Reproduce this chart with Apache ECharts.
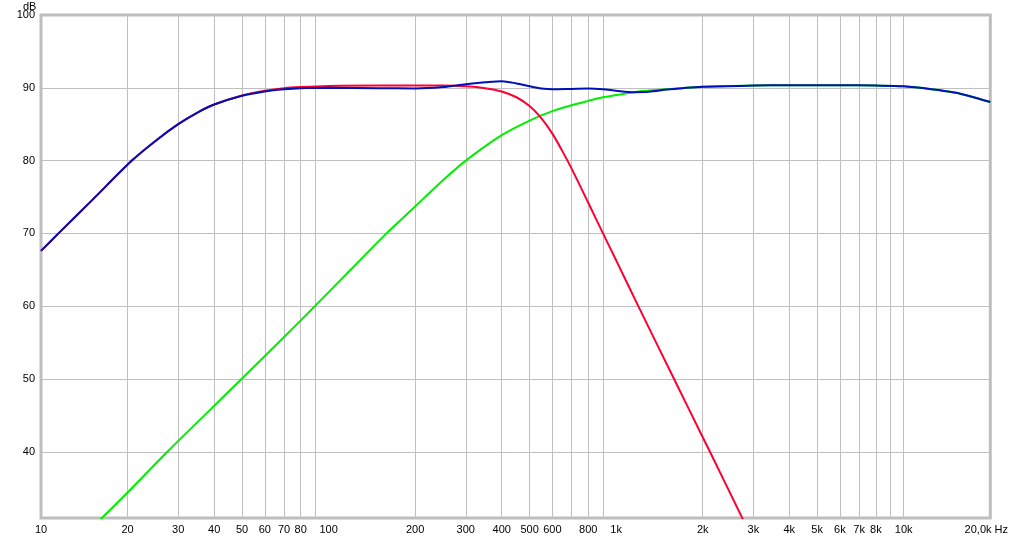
<!DOCTYPE html>
<html><head><meta charset="utf-8">
<script src="https://cdn.jsdelivr.net/npm/echarts@6/dist/echarts.min.js"></script>
<style>html,body{margin:0;padding:0;background:#fff}#c{width:1011px;height:538px}</style>
</head><body><div id="c"></div>
<script>
// Tick labels and grid positions (Hz / dB)
const freqLabels = [10,20,30,40,50,60,70,80,100,200,300,400,500,600,800,1000,2000,3000,4000,5000,6000,7000,8000,10000,20000];
const freqGrid = [20,30,40,50,60,70,80,90,200,300,400,500,600,700,800,900,2000,3000,4000,5000,6000,7000,8000,9000,10000];
const dbLabels = [40,50,60,70,80,90,100];
const dbGrid = [40,50,60,70,80,90];

// Woofer (red)
const wooferFreq = [10,11.5,15,20.7,25,30,35,40,50,60,70,80,100,150,200,250,300,350,400,450,500,550,600,650,700,800,900,1000,1194,1590,2000,2119,2800];
const wooferDb   = [67.6,70.0,74.5,80.0,82.7,85.0,86.6,87.7,88.95,89.6,89.95,90.1,90.25,90.3,90.3,90.3,90.2,89.95,89.5,88.7,87.5,85.8,83.7,81.3,78.9,74.2,70.0,66.3,60.0,50.0,42.0,40.0,30.2];

// Tweeter (green)
const tweeterFreq = [16,20,27.5,37,49.8,67,89.6,120,159,200,250,300,400,500,600,700,800,900,1000,1200,1500,2000,3000,4000,6000,8000,10000,12500,15000,17000,20000];
const tweeterDb   = [30.6,34.4,40.0,45.0,50.0,55.0,60.0,65.1,70.0,73.7,77.3,80.0,83.5,85.5,86.8,87.6,88.2,88.7,89.0,89.5,89.8,90.15,90.3,90.35,90.35,90.3,90.2,89.8,89.35,88.85,88.05];

// Sum (blue)
const sumFreq = [10,11.5,15,20.7,25,30,35,40,50,60,70,80,100,150,200,250,300,350,400,450,500,550,600,700,800,900,1000,1150,1300,1500,1700,2000,3000,4000,6000,8000,10000,12500,15000,17000,20000];
const sumDb   = [67.6,70.0,74.5,80.0,82.7,85.0,86.6,87.7,88.9,89.5,89.8,89.95,90.0,89.95,89.9,90.1,90.5,90.75,90.9,90.6,90.2,89.9,89.8,89.85,89.9,89.8,89.6,89.4,89.45,89.75,89.95,90.15,90.3,90.35,90.35,90.3,90.2,89.8,89.35,88.85,88.05];

function pairs(f, d) { return f.map((x, i) => [x, d[i]]); }

function fmtFreq(v) {
  const r = Math.round(v);
  if (r === 20000) return '{e|20,0k Hz}';
  if (r >= 1000) return (r / 1000) + 'k';
  return String(r);
}

const font = 'Liberation Sans';
const chart = echarts.init(document.getElementById('c'), null, {renderer: 'canvas'});
chart.setOption({
  animation: false,
  backgroundColor: '#ffffff',
  grid: {left: 41, right: 20, top: 15, bottom: 20, show: true, borderColor: '#bebebe', borderWidth: 3, backgroundColor: '#ffffff'},
  xAxis: {
    type: 'log', logBase: 10, min: 10, max: 20000,
    axisLine: {show: false},
    axisTick: {show: false, customValues: freqGrid},
    splitLine: {show: true, lineStyle: {color: '#c0c0c0', width: 1}},
    minorSplitLine: {show: false},
    axisLabel: {
      customValues: freqLabels, formatter: fmtFreq, margin: 6,
      color: '#000', fontFamily: font, fontSize: 11,
      showMinLabel: true, showMaxLabel: true,
      rich: {e: {padding: [0, 8, 0, 0], color: '#000', fontFamily: font, fontSize: 11}}
    }
  },
  yAxis: {
    type: 'value', min: 30.9, max: 100,
    axisLine: {show: false},
    axisTick: {show: false, customValues: dbGrid},
    splitLine: {show: true, lineStyle: {color: '#c0c0c0', width: 1}},
    axisLabel: {customValues: dbLabels, margin: 6, color: '#000', fontFamily: font, fontSize: 11}
  },
  graphic: [{type: 'text', left: 23, top: 1, style: {text: 'dB', fill: '#000', font: '11px "Liberation Sans"'}}],
  series: [
    {name: 'Tweeter', type: 'line', data: pairs(tweeterFreq, tweeterDb), showSymbol: false, smooth: 0.3, clip: true,
     lineStyle: {color: '#00ee00', width: 2}, itemStyle: {color: '#00ee00'}, z: 2},
    {name: 'Woofer', type: 'line', data: pairs(wooferFreq, wooferDb), showSymbol: false, smooth: 0.3, clip: true,
     lineStyle: {color: '#ff0033', width: 2}, itemStyle: {color: '#ff0033'}, z: 3},
    {name: 'Sum', type: 'line', data: pairs(sumFreq, sumDb), showSymbol: false, smooth: 0.3, clip: true,
     lineStyle: {color: '#0010b8', width: 2}, itemStyle: {color: '#0010b8'}, z: 4}
  ]
});
</script>
</body></html>
